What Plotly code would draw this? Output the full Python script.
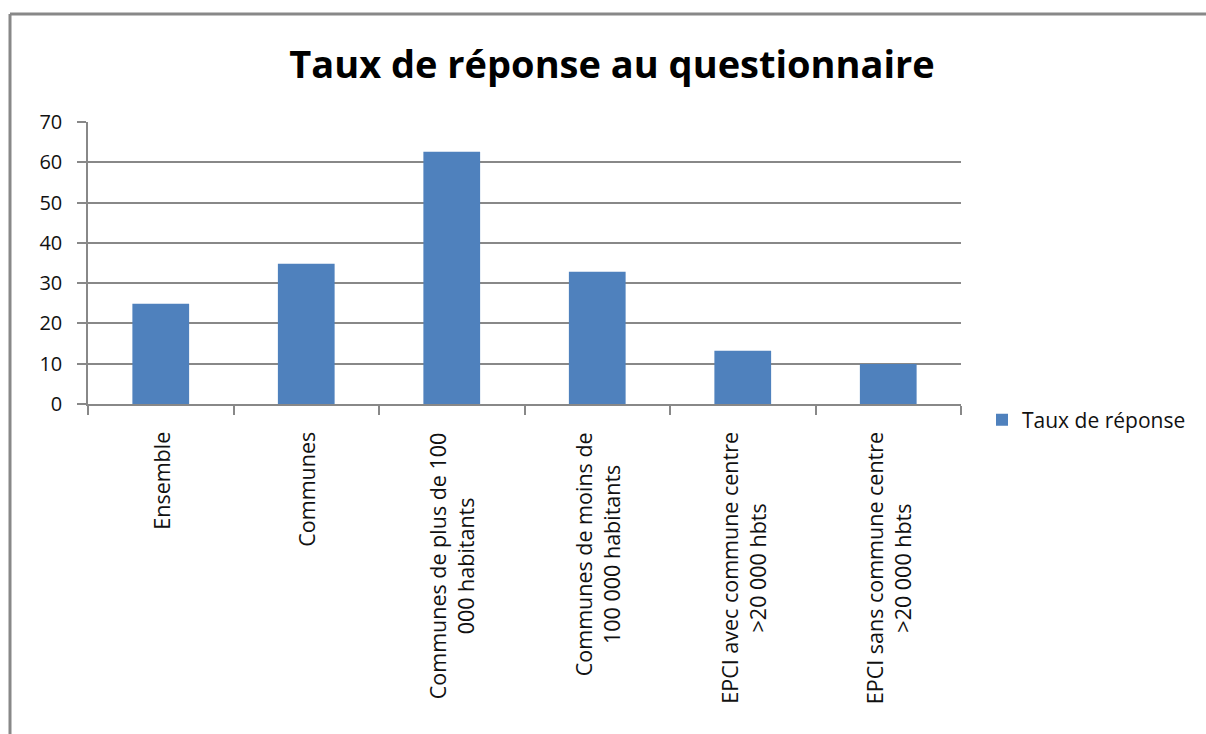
import plotly.graph_objects as go

categories = [
    "Ensemble",
    "Communes",
    "Communes de plus de 100<br>000 habitants",
    "Communes de moins de<br>100 000 habitants",
    "EPCI avec commune centre<br>>20 000 hbts",
    "EPCI sans commune centre<br>>20 000 hbts",
]
values = [24.9, 34.8, 62.6, 32.8, 13.2, 9.9]
series_name = "Taux de réponse"
title_text = "Taux de réponse au questionnaire"
y_ticks = [0, 10, 20, 30, 40, 50, 60, 70]

W, H = 1206, 734
L, R, T, B = 88, 961, 122, 404  # plot area in pixels

def px_x(px):
    return (px - L) / (R - L)

def px_y(py):
    return (B - py) / (B - T)

FONT = "Open Sans"
GRAY = "#888888"

fig = go.Figure()
fig.add_trace(go.Bar(
    x=categories, y=values, name=series_name,
    marker=dict(color="#4F81BD", line=dict(width=0)),
    showlegend=True,
))

for c in categories:
    fig.add_annotation(
        x=c, xref="x", y=0, yref="paper", yshift=-26,
        text=c, textangle=-90, showarrow=False,
        xanchor="center", yanchor="top", align="center",
        font=dict(family=FONT, size=21.5, color="#111111"),
    )

# outer frame (top and left only)
fig.add_shape(type="line", xref="paper", yref="paper",
              x0=px_x(10), x1=px_x(1210), y0=px_y(14), y1=px_y(14),
              line=dict(color=GRAY, width=3))
fig.add_shape(type="line", xref="paper", yref="paper",
              x0=px_x(10), x1=px_x(10), y0=px_y(14), y1=px_y(740),
              line=dict(color=GRAY, width=3))

fig.update_layout(
    width=W, height=H,
    margin=dict(l=L, r=W - R, t=T, b=H - B, pad=0),
    paper_bgcolor="white", plot_bgcolor="white",
    bargap=0.61,
    title=dict(text="<b>" + title_text + "</b>", x=612 / W, xref="container",
               xanchor="center", y=1 - 65 / H, yref="container", yanchor="middle",
               font=dict(family=FONT, size=38, color="#000000")),
    legend=dict(x=px_x(982), y=px_y(420), xanchor="left", yanchor="middle",
                font=dict(family=FONT, size=21, color="#111111"),
                bgcolor="rgba(0,0,0,0)"),
    xaxis=dict(
        showticklabels=False, tickson="boundaries", ticks="outside",
        ticklen=9, tickcolor=GRAY, tickwidth=1.5,
        showline=True, linecolor=GRAY, linewidth=1.5,
        showgrid=False, fixedrange=True,
    ),
    yaxis=dict(
        range=[0, 70], tickvals=y_ticks, ticks="outside", ticklen=9,
        tickcolor=GRAY, tickwidth=1.5,
        showline=True, linecolor=GRAY, linewidth=1.5,
        showgrid=True, gridcolor=GRAY, gridwidth=1.5,
        zeroline=False, ticklabelstandoff=11,
        tickfont=dict(family=FONT, size=20, color="#111111"),
        fixedrange=True,
    ),
)

fig.write_html(
    "out.html",
    config={"displayModeBar": False},
    post_script="document.body.style.margin='0px';document.body.style.padding='0px';",
)
